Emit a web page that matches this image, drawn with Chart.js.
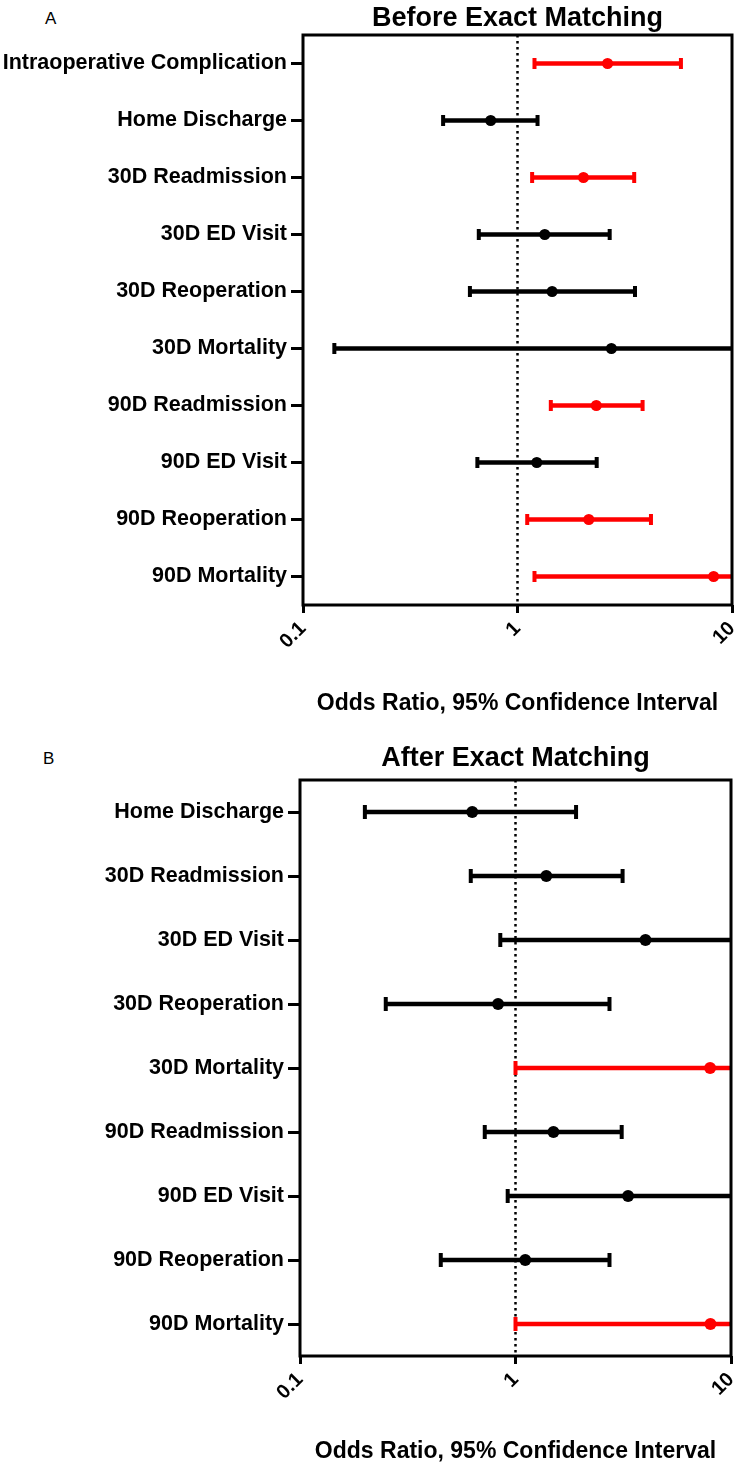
<!DOCTYPE html>
<html>
<head>
<meta charset="utf-8">
<script src="https://cdn.jsdelivr.net/npm/chart.js@4/dist/chart.umd.min.js"></script>
<style>
  html, body { margin: 0; padding: 0; background: #fff; }
  body { width: 736px; height: 1466px; position: relative; overflow: hidden; }
  .panel-letter { position: absolute; font: 17px/17px "Liberation Sans", Arial, sans-serif; color: #000; }
  .wrap { position: absolute; left: 0; width: 736px; }
  canvas { display: block; }
</style>
</head>
<body>
<div class="panel-letter" style="left:45px; top:10px;">A</div>
<div class="panel-letter" style="left:43px; top:750px;">B</div>
<div class="wrap" style="top:0; height:740px;"><canvas id="chartA" width="736" height="740"></canvas></div>
<div class="wrap" style="top:740px; height:726px;"><canvas id="chartB" width="736" height="726"></canvas></div>
<script>
// ---------- data ----------
const categoriesA = ['Intraoperative Complication', 'Home Discharge', '30D Readmission', '30D ED Visit',
  '30D Reoperation', '30D Mortality', '90D Readmission', '90D ED Visit', '90D Reoperation', '90D Mortality'];
const oddsA = [2.63, 0.75, 2.03, 1.34, 1.45, 2.74, 2.33, 1.23, 2.15, 8.21];
const lowA  = [1.20, 0.45, 1.17, 0.66, 0.60, 0.14, 1.43, 0.65, 1.11, 1.20];
const highA = [5.78, 1.24, 3.50, 2.69, 3.53, 18.0, 3.83, 2.34, 4.19, 15.0];

const categoriesB = ['Home Discharge', '30D Readmission', '30D ED Visit', '30D Reoperation',
  '30D Mortality', '90D Readmission', '90D ED Visit', '90D Reoperation', '90D Mortality'];
const oddsB = [0.63, 1.39, 4.01, 0.83, 8.00, 1.50, 3.33, 1.11, 8.03];
const lowB  = [0.20, 0.62, 0.85, 0.25, 1.00, 0.72, 0.92, 0.45, 1.00];
const highB = [1.91, 3.14, 16.0, 2.73, 20.0, 3.11, 14.0, 2.73, 20.0];

const tickValues = [0.1, 1, 10];
const referenceValue = 1;
const titleA = 'Before Exact Matching';
const titleB = 'After Exact Matching';
const axisTitle = 'Odds Ratio, 95% Confidence Interval';

// ---------- drawing ----------
const FONT = '"Liberation Sans", Arial, Helvetica, sans-serif';
const RED = '#ff0000', BLACK = '#000000';

const framePlugin = {
  id: 'frameAndRef',
  beforeDatasetsDraw(chart) {
    const { ctx, chartArea: a, scales } = chart;
    const px = scales.x.getPixelForValue(referenceValue);
    ctx.save();
    ctx.strokeStyle = BLACK;
    ctx.lineWidth = 2.5;
    ctx.setLineDash([2.5, 3.5]);
    ctx.beginPath();
    ctx.moveTo(px, a.top);
    ctx.lineTo(px, a.bottom);
    ctx.stroke();
    ctx.restore();
  },
  afterDatasetsDraw(chart) {
    const { ctx, chartArea: a } = chart;
    ctx.save();
    ctx.strokeStyle = BLACK;
    ctx.lineWidth = 3;
    ctx.strokeRect(a.left, a.top, a.right - a.left, a.bottom - a.top);
    ctx.restore();
  }
};

function noPad(s) { s.paddingLeft = 0; s.paddingRight = 0; s.paddingTop = 0; s.paddingBottom = 0; }

function makePanel(id, categories, odds, low, high, title, g) {
  const colors = categories.map((c, i) => (low[i] >= 1 || high[i] <= 1) ? RED : BLACK);
  return new Chart(document.getElementById(id), {
    type: 'bar',
    data: {
      labels: categories,
      datasets: [
        {
          type: 'bar',
          data: categories.map((c, i) => [low[i], high[i]]),
          backgroundColor: colors,
          barThickness: 4,
          borderWidth: 0,
          order: 3
        },
        {
          type: 'scatter',
          data: [...categories.map((c, i) => ({ x: low[i], y: c })),
                 ...categories.map((c, i) => ({ x: high[i], y: c }))],
          pointStyle: 'line',
          rotation: 90,
          pointRadius: g.capR,
          borderWidth: 4,
          borderColor: [...colors, ...colors],
          order: 2
        },
        {
          type: 'scatter',
          data: categories.map((c, i) => ({ x: odds[i], y: c })),
          pointStyle: 'circle',
          pointRadius: g.dotR,
          backgroundColor: colors,
          borderWidth: 0,
          order: 1
        }
      ]
    },
    options: {
      indexAxis: 'y',
      responsive: false,
      animation: false,
      events: [],
      layout: { autoPadding: false, padding: { left: 0, right: g.right, top: 0, bottom: 0 } },
      plugins: { legend: { display: false }, tooltip: { enabled: false }, title: { display: false } },
      scales: {
        x: {
          type: 'logarithmic',
          position: 'bottom',
          min: tickValues[0],
          max: tickValues[tickValues.length - 1],
          afterBuildTicks: s => { s.ticks = tickValues.map(v => ({ value: v })); },
          afterFit: s => { s.height = g.xAxisH; noPad(s); },
          grid: { display: true, drawOnChartArea: false, tickLength: 8, tickWidth: 3, tickColor: BLACK },
          border: { display: false },
          ticks: {
            minRotation: 45, maxRotation: 45, padding: 4, color: BLACK,
            font: { family: FONT, size: 20, weight: 'bold' },
            callback: v => tickValues.includes(v) ? String(v) : ''
          },
          title: {
            display: true, text: axisTitle, color: BLACK,
            font: { family: FONT, size: 23, weight: 'bold' },
            padding: { top: 0, bottom: g.titlePadB }
          }
        },
        xTop: {
          type: 'linear',
          position: 'top',
          display: true,
          afterFit: s => { s.height = g.top; noPad(s); },
          grid: { display: false },
          border: { display: false },
          ticks: { display: false },
          title: {
            display: true, text: title, color: BLACK,
            font: { family: FONT, size: 27, weight: 'bold' },
            padding: { top: 2, bottom: 0 }
          }
        },
        y: {
          type: 'category',
          offset: true,
          afterFit: s => { s.width = g.left; noPad(s); },
          grid: { display: true, drawOnChartArea: false, offset: false, tickLength: 12, tickWidth: 3, tickColor: BLACK },
          border: { display: false },
          ticks: {
            autoSkip: false, padding: 4, color: BLACK,
            font: { family: FONT, size: 21.5, weight: 'bold' }
          }
        }
      }
    },
    plugins: [framePlugin]
  });
}

makePanel('chartA', categoriesA, oddsA, lowA, highA, titleA,
  { left: 303, right: 4, top: 35, xAxisH: 135, titlePadB: 23, capR: 5.5, dotR: 5.5 });
makePanel('chartB', categoriesB, oddsB, lowB, highB, titleB,
  { left: 300, right: 5, top: 40, xAxisH: 110, titlePadB: 1, capR: 7, dotR: 6 });
</script>
</body>
</html>
